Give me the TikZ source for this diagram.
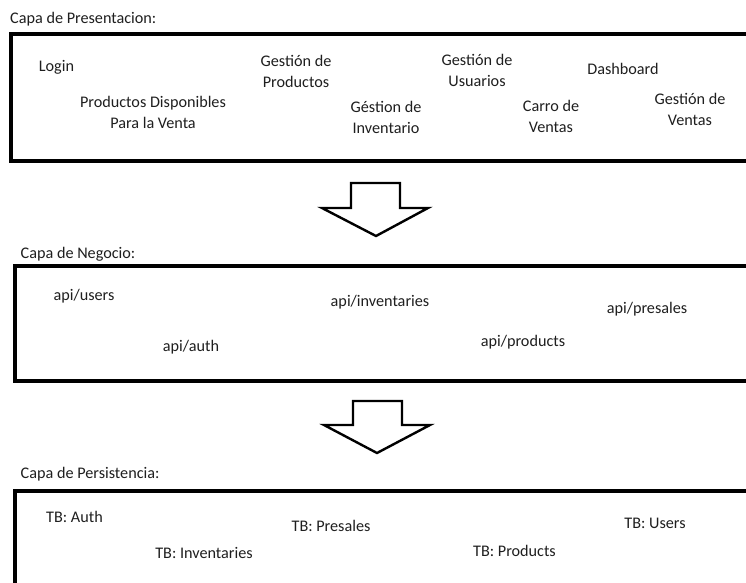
\documentclass[tikz,border=0pt]{standalone}
\usepackage{fontspec}
\setmainfont{Carlito}
\begin{document}
\begin{tikzpicture}[x=1pt,y=-1pt,
  lbl/.style={inner sep=0pt, align=center, font=\fontsize{16.2}{20.5}\selectfont, text=black!88},
  ttl/.style={lbl, anchor=west},
  layer/.style={draw=black, line width=4pt, fill=none},
  bigarrow/.style={draw=black, line width=2.4pt, fill=white, line join=miter}
]
\useasboundingbox (0,0) rectangle (746,582);
\clip (0,0) rectangle (746,582);
\fill[white] (0,0) rectangle (746,582);

% layer boxes
\draw[layer] (770,34) -- (11,34) -- (11,161) -- (770,161);
\draw[layer] (770,266) -- (15,266) -- (15,381) -- (770,381);
\draw[layer] (770,490.5) -- (15,490.5) -- (15,600);

% titles
\node[ttl] (t1) at (10,19) {\strut Capa de Presentacion:};
\node[ttl] (t2) at (20.5,254) {\strut Capa de Negocio:};
\node[ttl] (t3) at (20.5,474) {\strut Capa de Persistencia:};

% presentation layer
\node[lbl] (login) at (56.5,67) {\strut Login};
\node[lbl] (pdv) at (153,114) {\strut Productos Disponibles\\\strut Para la Venta};
\node[lbl] (gp) at (296,73) {\strut Gestión de\\\strut Productos};
\node[lbl] (gi) at (386,119) {\strut Géstion de\\\strut Inventario};
\node[lbl] (gu) at (477,72) {\strut Gestión de\\\strut Usuarios};
\node[lbl] (cv) at (551,118) {\strut Carro de\\\strut Ventas};
\node[lbl] (dash) at (623,70) {\strut Dashboard};
\node[lbl] (gv) at (690,111) {\strut Gestión de\\\strut Ventas};

% business layer
\node[lbl] (users) at (84,296) {\strut api/users};
\node[lbl] (auth) at (191,347) {\strut api/auth};
\node[lbl] (inv) at (380,302) {\strut api/inventaries};
\node[lbl] (pres) at (647,309) {\strut api/presales};
\node[lbl] (prod) at (523,342) {\strut api/products};

% persistence layer
\node[lbl] (tbauth) at (74.5,518) {\strut TB: Auth};
\node[lbl] (tbinv) at (204,554) {\strut TB: Inventaries};
\node[lbl] (tbpres) at (331,527) {\strut TB: Presales};
\node[lbl] (tbprod) at (514.5,552) {\strut TB: Products};
\node[lbl] (tbusers) at (655,524) {\strut TB: Users};

% block arrows
\draw[bigarrow] (351,183) -- (400,183) -- (400,208) -- (428,208) -- (376,236) -- (322,208) -- (351,208) -- cycle;
\draw[bigarrow] (353,401) -- (402,401) -- (402,425) -- (430,425) -- (377,453) -- (324,425) -- (353,425) -- cycle;
\end{tikzpicture}
\end{document}
